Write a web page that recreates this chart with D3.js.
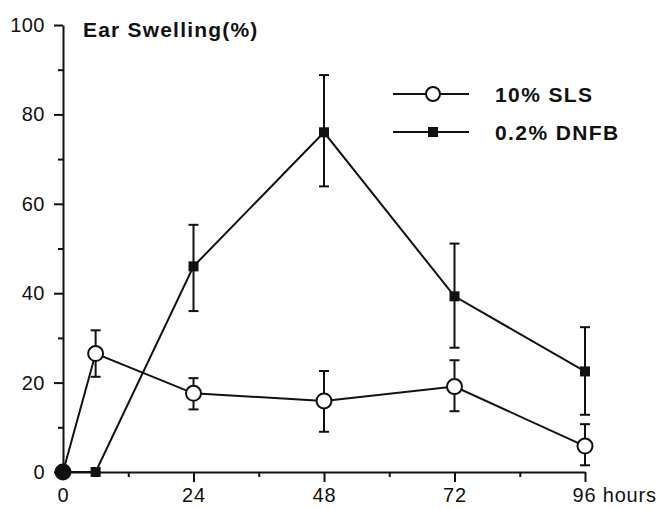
<!DOCTYPE html>
<html>
<head>
<meta charset="utf-8">
<script src="https://cdn.jsdelivr.net/npm/d3@7"></script>
<style>
  body { margin: 0; background: #fff; }
  text { font-family: "Liberation Sans", Arial, sans-serif; fill: #111; }
</style>
</head>
<body>
<div id="chart"></div>
<script>
// hours after application
const hours = [0, 6, 24, 48, 72, 96];
// ear swelling (%) means and error bar ends
const slsMean = [0, 26.5, 17.6, 15.9, 19.1, 5.8];
const slsLow  = [0, 21.3, 14.0, 9.0, 13.6, 1.5];
const slsHigh = [0, 31.7, 21.0, 22.6, 25.0, 10.7];
const dnfbMean = [0, 0, 46.0, 76.0, 39.3, 22.5];
const dnfbLow  = [0, 0, 36.0, 63.9, 27.8, 12.8];
const dnfbHigh = [0, 0, 55.3, 88.8, 51.1, 32.4];
const majorX = [0, 24, 48, 72, 96];
const minorX = [12, 36, 60, 84];
const majorY = [0, 20, 40, 60, 80, 100];
const minorY = [10, 30, 50, 70, 90];
const legendLabels = ['10% SLS', '0.2% DNFB'];

const width = 667, height = 509;
const ink = '#111';

const svg = d3.select('#chart').append('svg')
    .attr('width', width)
    .attr('height', height);

const x = d3.scaleLinear().domain([0, 96]).range([63, 585]);
const y = d3.scaleLinear().domain([0, 100]).range([472, 25]);

function series(mean, low, high) {
    return hours.map((h, i) => ({ t: h, v: mean[i], lo: low[i], hi: high[i] }));
}
const sls = series(slsMean, slsLow, slsHigh);
const dnfb = series(dnfbMean, dnfbLow, dnfbHigh);

// axes
const xAxis = svg.append('g')
    .attr('transform', `translate(0,${y(0)})`)
    .call(d3.axisBottom(x).tickValues(majorX).tickSize(10).tickSizeOuter(0)
        .tickFormat(d => d === 96 ? '96 hours' : d));
const yAxis = svg.append('g')
    .attr('transform', `translate(${x(0)},0)`)
    .call(d3.axisLeft(y).tickValues(majorY).tickSize(9).tickSizeOuter(0));

svg.append('g')
    .attr('transform', `translate(0,${y(0)})`)
    .call(d3.axisBottom(x).tickValues(minorX).tickSize(5).tickFormat(''))
    .select('.domain').remove();
svg.append('g')
    .attr('transform', `translate(${x(0)},0)`)
    .call(d3.axisLeft(y).tickValues(minorY).tickSize(5).tickFormat(''))
    .select('.domain').remove();

svg.selectAll('.domain').attr('stroke', ink).attr('stroke-width', 2);
svg.selectAll('.tick line').attr('stroke', ink).attr('stroke-width', 2);
xAxis.selectAll('.tick').filter(d => d === 0).select('line').remove();

xAxis.selectAll('.tick text')
    .attr('y', 16)
    .attr('dy', '0.71em')
    .style('font-size', '20px')
    .style('letter-spacing', '0.8px');
xAxis.selectAll('.tick text').filter(d => d === 96)
    .attr('text-anchor', 'start')
    .attr('x', -13);
yAxis.selectAll('.tick text')
    .attr('x', -18)
    .style('font-size', '20px')
    .style('letter-spacing', '0.5px');

// title
svg.append('text')
    .attr('x', 83)
    .attr('y', 37)
    .style('font-size', '21px')
    .style('font-weight', 'bold')
    .style('letter-spacing', '1.2px')
    .text('Ear Swelling(%)');

const line = d3.line().x(d => x(d.t)).y(d => y(d.v));

function drawErrors(data) {
    const g = svg.append('g').attr('stroke', ink).attr('stroke-width', 2);
    const bars = data.filter(d => d.hi > d.lo);
    g.selectAll('line.v').data(bars).join('line')
        .attr('x1', d => x(d.t)).attr('x2', d => x(d.t))
        .attr('y1', d => y(d.lo)).attr('y2', d => y(d.hi));
    g.selectAll('line.hi').data(bars).join('line')
        .attr('x1', d => x(d.t) - 5).attr('x2', d => x(d.t) + 5)
        .attr('y1', d => y(d.hi)).attr('y2', d => y(d.hi));
    g.selectAll('line.lo').data(bars).join('line')
        .attr('x1', d => x(d.t) - 5).attr('x2', d => x(d.t) + 5)
        .attr('y1', d => y(d.lo)).attr('y2', d => y(d.lo));
}

drawErrors(dnfb);
drawErrors(sls);

svg.append('path').datum(dnfb)
    .attr('fill', 'none').attr('stroke', ink).attr('stroke-width', 2)
    .attr('d', line);
svg.append('path').datum(sls)
    .attr('fill', 'none').attr('stroke', ink).attr('stroke-width', 2)
    .attr('d', line);

svg.selectAll('rect.dnfb').data(dnfb).join('rect')
    .attr('x', d => x(d.t) - 5).attr('y', d => y(d.v) - 5)
    .attr('width', 10).attr('height', 10)
    .attr('fill', ink);
svg.selectAll('circle.sls').data(sls).join('circle')
    .attr('cx', d => x(d.t)).attr('cy', d => y(d.v))
    .attr('r', 7.5)
    .attr('fill', d => d.t === 0 ? ink : '#fff')
    .attr('stroke', ink).attr('stroke-width', 2);

// legend
const legend = svg.append('g');
const legendY = [94, 132];
legendLabels.forEach((label, i) => {
    const ly = legendY[i];
    legend.append('line')
        .attr('x1', 393).attr('x2', 469).attr('y1', ly).attr('y2', ly)
        .attr('stroke', ink).attr('stroke-width', 2);
    if (i === 0) {
        legend.append('circle').attr('cx', 433).attr('cy', ly).attr('r', 7)
            .attr('fill', '#fff').attr('stroke', ink).attr('stroke-width', 2);
    } else {
        legend.append('rect').attr('x', 428).attr('y', ly - 5)
            .attr('width', 10).attr('height', 10).attr('fill', ink);
    }
    legend.append('text')
        .attr('x', 495).attr('y', ly + 8)
        .style('font-size', '21px')
        .style('font-weight', 'bold')
        .style('letter-spacing', '1.4px')
        .text(label);
});
</script>
</body>
</html>
